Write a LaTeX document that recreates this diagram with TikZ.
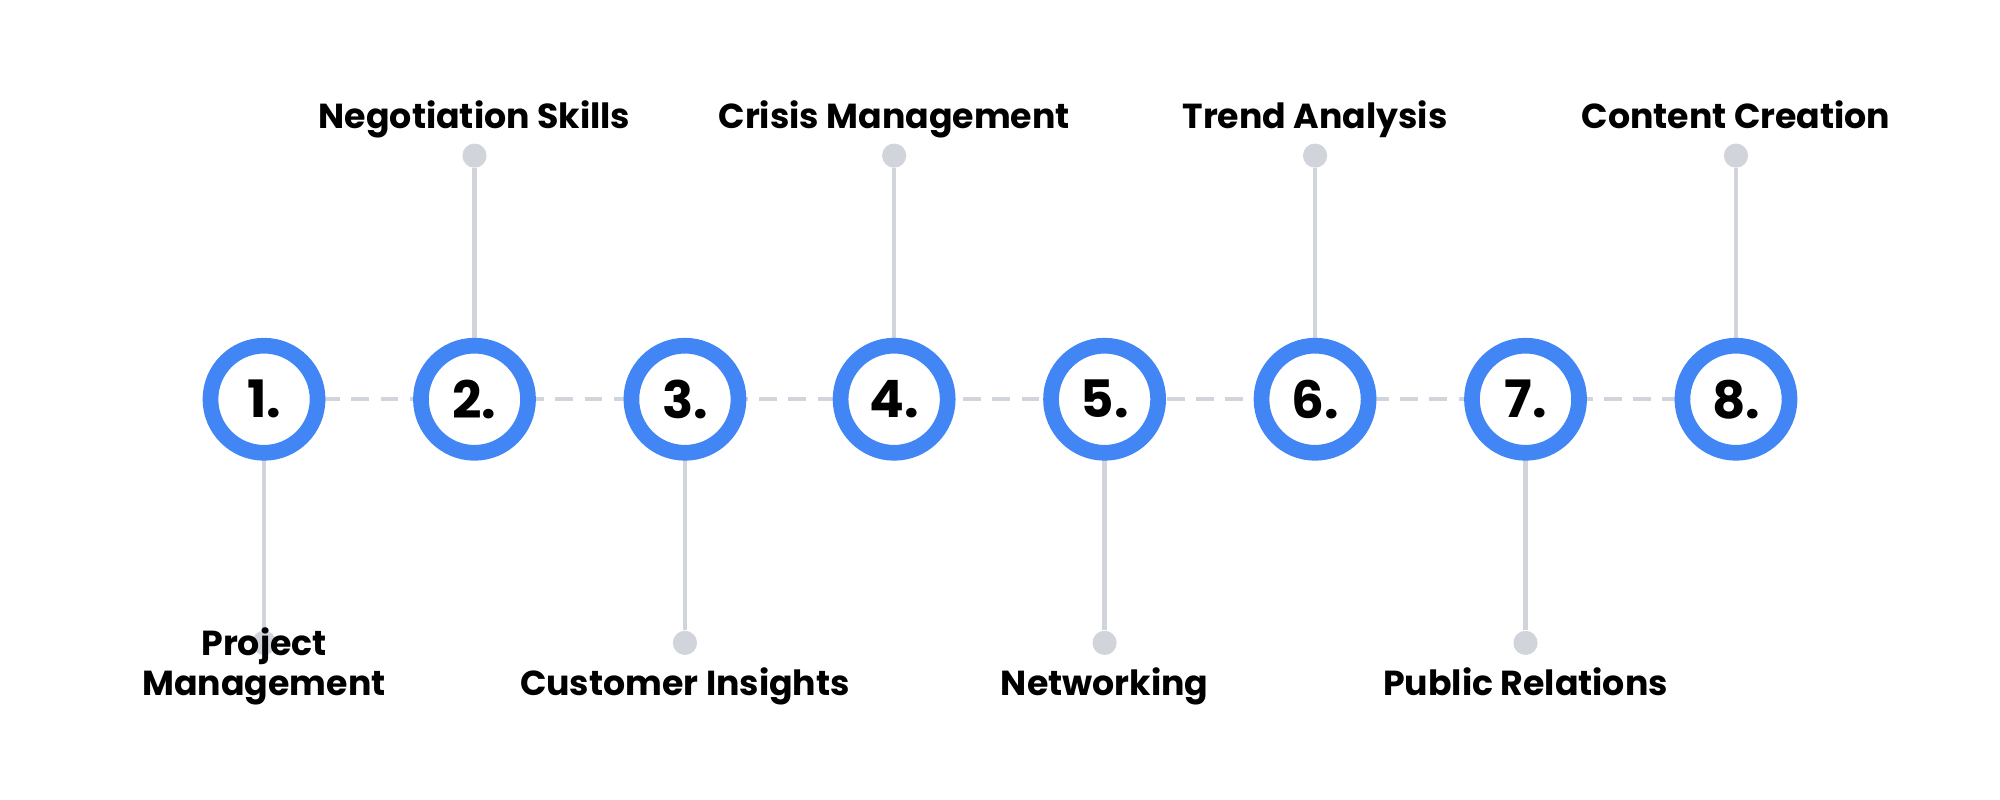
\documentclass[tikz,border=0pt]{standalone}
\usepackage{fontspec}
\setmainfont{Poppins}
\usetikzlibrary{calc}
\definecolor{blu}{HTML}{4285F4}
\definecolor{gry}{HTML}{D1D5DB}
\begin{document}
\begin{tikzpicture}[x=0.02cm,y=-0.02cm,
  circ/.style={circle,draw=blu,line width=7pt,fill=white,minimum size=1.68cm,inner sep=0pt,font=\bfseries\fontsize{23}{23}\selectfont},
  dotn/.style={circle,fill=gry,minimum size=0.38cm,inner sep=0pt},
  lbl/.style={font=\bfseries\fontsize{15.5}{17.5}\selectfont,align=center,inner sep=0pt,anchor=base},
  stem/.style={draw=gry,line width=2pt},
  dashline/.style={draw=gry,line width=2pt,dash pattern=on 8pt off 5pt}]
\useasboundingbox (0,0) rectangle (1568,627);
\foreach \i/\x in {1/207,2/372,3/537,4/701,5/866,6/1031,7/1196,8/1361}{
  \coordinate (c\i) at (\x,313);}
\draw[dashline] (c1) -- (c8);
\foreach \i in {2,4,6,8}{\node[dotn] (d\i) at ($(c\i)+(0,-191)$) {}; \draw[stem] (d\i) -- (c\i);}
\foreach \i in {1,3,5,7}{\node[dotn] (d\i) at ($(c\i)+(0,191)$) {}; \draw[stem] (d\i) -- (c\i);}
\foreach \i in {1,...,8}{\node[circ] (n\i) at (c\i) {\i.};}
\node[lbl] (t2) at (372,101) {Negotiation Skills};
\node[lbl] (t4) at (701,101) {Crisis Management};
\node[lbl] (t6) at (1031,101) {Trend Analysis};
\node[lbl] (t8) at (1361,101) {Content Creation};
\node[lbl] (t1) at (207,545) {Project\\Management};
\node[lbl] (t3) at (537,545) {Customer Insights};
\node[lbl] (t5) at (866,545) {Networking};
\node[lbl] (t7) at (1196,545) {Public Relations};
\end{tikzpicture}
\end{document}
